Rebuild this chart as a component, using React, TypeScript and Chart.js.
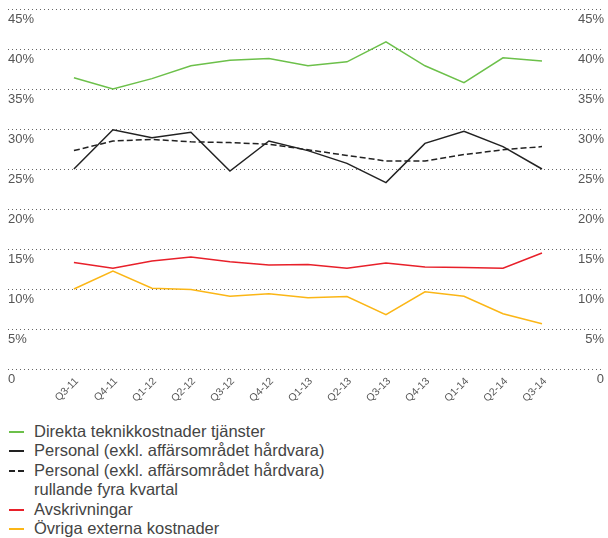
import React, { useEffect, useRef } from 'react';
import { Chart, registerables } from 'chart.js';

Chart.register(...registerables);

const categories = ['Q3-11', 'Q4-11', 'Q1-12', 'Q2-12', 'Q3-12', 'Q4-12', 'Q1-13', 'Q2-13', 'Q3-13', 'Q4-13', 'Q1-14', 'Q2-14', 'Q3-14'];
const direkta = [36.4, 35.0, 36.3, 37.9, 38.6, 38.8, 37.9, 38.4, 40.9, 37.9, 35.8, 38.9, 38.5];
const personal = [25.0, 29.9, 28.9, 29.6, 24.75, 28.5, 27.3, 25.7, 23.3, 28.2, 29.7, 27.8, 25.0];
const personalRolling = [27.3, 28.5, 28.7, 28.4, 28.3, 28.1, 27.4, 26.7, 26.0, 26.0, 26.8, 27.4, 27.8];
const avskrivningar = [13.3, 12.6, 13.5, 14.0, 13.4, 13.0, 13.05, 12.6, 13.25, 12.75, 12.7, 12.6, 14.5];
const ovriga = [10.0, 12.25, 10.1, 9.95, 9.1, 9.4, 8.9, 9.05, 6.8, 9.65, 9.1, 6.9, 5.65];
const yTickValues = [0, 5, 10, 15, 20, 25, 30, 35, 40, 45];

const seriesLabels = [
  'Direkta teknikkostnader tjänster',
  'Personal (exkl. affärsområdet hårdvara)',
  'Personal (exkl. affärsområdet hårdvara)\nrullande fyra kvartal',
  'Avskrivningar',
  'Övriga externa kostnader',
];
const seriesColors = ['#6cc04a', '#222222', '#222222', '#e8202a', '#fbb616'];
const seriesValues = [direkta, personal, personalRolling, avskrivningar, ovriga];
const seriesDashed = [false, false, true, false, false];

const FONT = '"Liberation Sans", Arial, sans-serif';
const TEXT = '#555555';

const yLabel = (v: number) => (v === 0 ? '0' : `${v}%`);

export default function App() {
  const canvasRef = useRef<HTMLCanvasElement | null>(null);

  useEffect(() => {
    if (!canvasRef.current) return;
    const datasets = seriesValues.map((vals, k) => ({
      label: seriesLabels[k],
      data: vals.map((v, i) => ({ x: i, y: v })),
      borderColor: seriesColors[k],
      backgroundColor: seriesColors[k],
      borderWidth: 1.5,
      borderDash: seriesDashed[k] ? [6, 3] : [],
      pointRadius: 0,
      tension: 0,
      fill: false,
    }));
    const yAxisCommon = {
      min: 0,
      max: 45,
      afterBuildTicks: (s: any) => {
        s.ticks = yTickValues.map((v) => ({ value: v }));
      },
      afterFit: (s: any) => {
        s.width = 0;
      },
      ticks: {
        mirror: true,
        labelOffset: 10,
        padding: 0,
        color: TEXT,
        font: { family: FONT, size: 13 },
        callback: (v: any) => yLabel(Number(v)),
      },
    };
    const chart = new Chart(canvasRef.current, {
      type: 'line',
      data: { datasets: datasets as any },
      options: {
        animation: false,
        responsive: false,
        devicePixelRatio: 1,
        layout: { padding: { top: 9, left: 8, right: 4, bottom: 0 } },
        plugins: { legend: { display: false }, tooltip: { enabled: false } },
        scales: {
          x: {
            type: 'linear',
            min: -1.69,
            max: 13.59,
            afterBuildTicks: (s: any) => {
              s.ticks = categories.map((_, i) => ({ value: i }));
            },
            afterFit: (s: any) => {
              s.height = 41;
            },
            ticks: {
              autoSkip: false,
              minRotation: 45,
              maxRotation: 45,
              padding: 6,
              labelOffset: 3,
              color: TEXT,
              font: { family: FONT, size: 10.5 },
              callback: (v: any) => categories[Math.round(Number(v))],
            },
            grid: { display: false, drawTicks: false },
            border: { display: false },
          },
          y: {
            ...yAxisCommon,
            position: 'left',
            grid: { color: '#666666', lineWidth: 1, drawTicks: false, tickLength: 0 },
            border: { display: false, dash: [1, 3] },
          },
          y2: {
            ...yAxisCommon,
            position: 'right',
            grid: { display: false, drawTicks: false, tickLength: 0 },
            border: { display: false },
          },
        } as any,
      },
    });
    return () => chart.destroy();
  }, []);

  const rowH = 19.4;
  const lineIdx = [0, 1, 2, 4, 5];

  return (
    <div style={{ position: 'absolute', left: 0, top: 0, width: 608, height: 538, overflow: 'hidden', background: '#fff' }}>
      <canvas ref={canvasRef} width={608} height={410} style={{ position: 'absolute', left: 0, top: 0 }} />
      {seriesLabels.map((lab, k) => {
        const lines = lab.split('\n');
        const top = 422 + Math.round(lineIdx[k] * rowH);
        const col = seriesColors[k];
        return (
          <div key={k} style={{ position: 'absolute', left: 0, top, width: 608, fontFamily: FONT, fontSize: 16.5, color: '#444', lineHeight: `${rowH}px`, whiteSpace: 'nowrap' }}>
            {seriesDashed[k] ? (
              <>
                <div style={{ position: 'absolute', left: 9, top: 9, width: 6, height: 2, background: col }} />
                <div style={{ position: 'absolute', left: 18, top: 9, width: 6, height: 2, background: col }} />
              </>
            ) : (
              <div style={{ position: 'absolute', left: 9, top: 9, width: 15, height: 2, background: col }} />
            )}
            <div style={{ position: 'absolute', left: 34, top: 0 }}>
              {lines.map((ln, j) => (
                <div key={j}>{ln}</div>
              ))}
            </div>
          </div>
        );
      })}
    </div>
  );
}
